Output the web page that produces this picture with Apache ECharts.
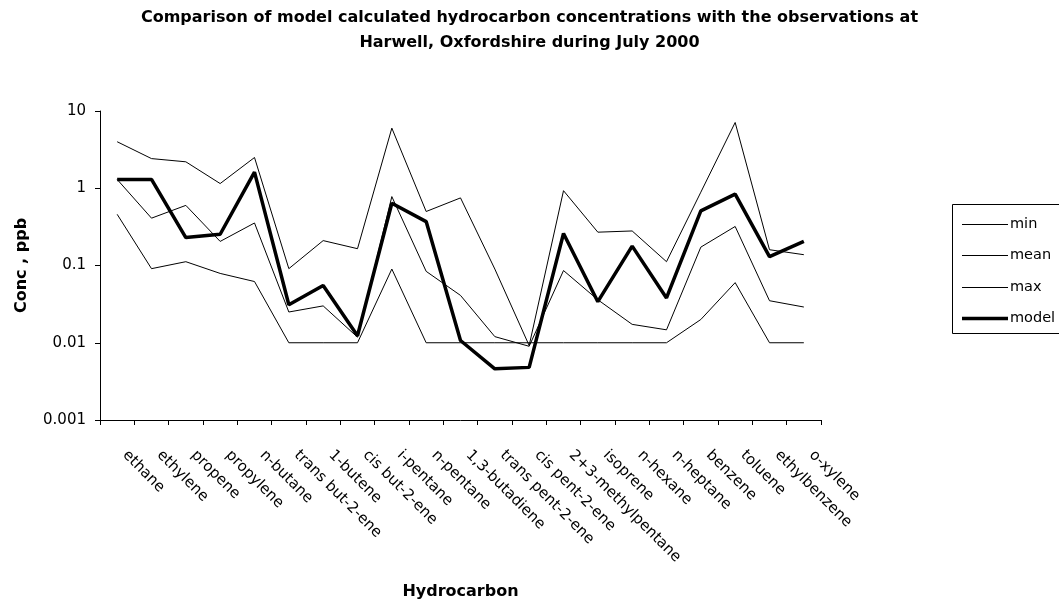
<!DOCTYPE html>
<html>
<head>
<meta charset="utf-8">
<script src="https://cdn.jsdelivr.net/npm/echarts@6/dist/echarts.min.js"></script>
<style>
html,body{margin:0;padding:0;background:#fff;}
#chart{width:1059px;height:605px;}
</style>
</head>
<body>
<div id="chart"></div>
<script>
const categories = ['ethane','ethylene','propene','propylene','n-butane','trans but-2-ene','1-butene','cis but-2-ene','i-pentane','n-pentane','1,3-butadiene','trans pent-2-ene','cis pent-2-ene','2+3-methylpentane','isoprene','n-hexane','n-heptane','benzene','toluene','ethylbenzene','o-xylene'];
const minValues = [0.46,0.091,0.112,0.079,0.062,0.01,0.01,0.01,0.09,0.01,0.01,0.01,0.01,0.01,0.01,0.01,0.01,0.02,0.06,0.01,0.01];
const meanValues = [1.3,0.41,0.6,0.205,0.355,0.025,0.03,0.0118,0.78,0.084,0.041,0.012,0.009,0.086,0.036,0.0173,0.0147,0.173,0.32,0.035,0.029];
const maxValues = [4.0,2.42,2.2,1.15,2.5,0.091,0.21,0.165,6.0,0.5,0.75,0.09,0.0092,0.93,0.27,0.28,0.112,0.89,7.1,0.16,0.138];
const modelValues = [1.3,1.3,0.23,0.254,1.62,0.031,0.055,0.0123,0.64,0.37,0.0107,0.0046,0.0048,0.26,0.034,0.178,0.038,0.51,0.84,0.13,0.205];
const yTickLabels = ['0.001','0.01','0.1','1','10'];
const seriesNames = ['min','mean','max','model'];

const FONT = '"DejaVu Sans", Verdana, sans-serif';
const chart = echarts.init(document.getElementById('chart'), null, {renderer:'canvas'});

const lineWidths = [1,1,1,3.5];
const legendRows = [224,255,287,318];
const graphics = [{
  type:'rect', silent:true,
  shape:{x:952.5, y:204.5, width:130, height:129},
  style:{fill:'none', stroke:'#000', lineWidth:1}
}];
seriesNames.forEach(function(n,i){
  graphics.push({type:'line', silent:true,
    shape:{x1:962, y1:legendRows[i]+0.5, x2:1008, y2:legendRows[i]+0.5},
    style:{stroke:'#000', lineWidth:lineWidths[i]}});
  graphics.push({type:'text', silent:true, x:1010, y:legendRows[i]+0.5,
    style:{text:n, font:'14.5px ' + FONT, fill:'#000', textVerticalAlign:'middle', verticalAlign:'middle'}});
});

chart.setOption({
  animation:false,
  backgroundColor:'#fff',
  title:{
    text:'Comparison of model calculated hydrocarbon concentrations with the observations at\nHarwell, Oxfordshire during July 2000',
    left:'center', top:0,
    textStyle:{fontFamily:FONT, fontSize:16, fontWeight:'bold', color:'#000', lineHeight:25}
  },
  graphic:graphics,
  grid:{left:100, right:238, top:111, bottom:174, containLabel:false},
  xAxis:{
    type:'category', data:categories, boundaryGap:true,
    name:'Hydrocarbon', nameLocation:'middle', nameGap:164,
    nameTextStyle:{fontFamily:FONT, fontSize:16, fontWeight:'bold', color:'#000'},
    axisLine:{lineStyle:{color:'#000', width:1}},
    axisTick:{show:true, length:5, lineStyle:{color:'#000'}, alignWithLabel:false},
    axisLabel:{rotate:-45, margin:25, interval:0, fontFamily:FONT, fontSize:15, color:'#000', padding:[0,0,0,11]},
    splitLine:{show:false}
  },
  yAxis:{
    type:'log', logBase:10, min:0.001, max:10,
    name:'Conc , ppb', nameLocation:'middle', nameGap:70, nameRotate:90,
    nameTextStyle:{fontFamily:FONT, fontSize:16, fontWeight:'bold', color:'#000'},
    axisLine:{show:true, lineStyle:{color:'#000', width:1}},
    axisTick:{show:true, length:5, lineStyle:{color:'#000'}},
    axisLabel:{fontFamily:FONT, fontSize:15, color:'#000', margin:14,
      formatter:function(v){ return yTickLabels[Math.round(Math.log10(v))+3]; }},
    splitLine:{show:false}
  },
  series:seriesNames.map(function(n,i){
    return {name:n, type:'line', data:[minValues,meanValues,maxValues,modelValues][i],
      symbol:'none', showSymbol:false,
      lineStyle:{color:'#000', width:lineWidths[i]}, itemStyle:{color:'#000'},
      emphasis:{disabled:true}, z: i===3 ? 3 : 2};
  })
});
</script>
</body>
</html>
